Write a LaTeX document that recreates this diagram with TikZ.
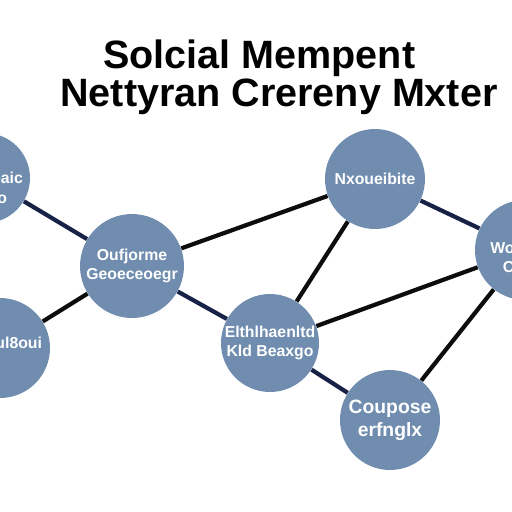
\documentclass[tikz,border=0pt]{standalone}
\usepackage{fontspec}
\setmainfont{Liberation Sans}
\usepackage{xcolor}
\usepackage{tikz}
\usetikzlibrary{backgrounds}

\definecolor{bubble}{RGB}{112,141,176}
\definecolor{navyline}{RGB}{24,34,70}

\begin{document}
\begin{tikzpicture}[
    x=0.02cm, y=-0.02cm,
    hub/.style={circle, fill=bubble, inner sep=0pt, minimum size=2cm,
                text=white, align=center,
                font=\bfseries\fontsize{9}{11}\selectfont},
    hubtext/.style={text=white, align=center, inner sep=0pt,
                    font=\bfseries\fontsize{9}{11}\selectfont},
    tie/.style={line width=2.4pt, black!95},
    navytie/.style={line width=2.4pt, navyline},
    heading/.style={anchor=base west, inner sep=0pt,
                    font=\bfseries\fontsize{22.5}{26}\selectfont},
]
\useasboundingbox (0,0) rectangle (512,512);
\clip (0,0) rectangle (512,512);

% Title, two lines
\node[heading] (ttop) at (103,68) {Solcial Mempent};
\node[heading] (tbot) at (60,106) {Nettyran Crereny Mxter};

% Bubbles
\node[hub, minimum size=1.8cm,
      label={[hubtext, xshift=0.24cm, yshift=-0.2cm]center:Oaeaic\\Eo}]
    (edge1) at (-15,178) {};
\node[hub,
      label={[hubtext, xshift=0.05cm, yshift=0.1cm]center:Sowul8oui}]
    (edge2) at (0,348) {};
\node[hub, minimum size=2.08cm] (hub1) at (132,266) {Oufjorme\\Geoeceoegr};
\node[hub] (top1) at (375,179) {Nxoueibite};
\node[hub,
      label={[hubtext, xshift=-0.1cm, yshift=-0.15cm]center:Wouwis\\Cosi}]
    (right1) at (525,250) {};
\node[hub, minimum size=1.96cm] (mid1) at (270,343) {Elthlhaenltd\\Kld Beaxgo};
\node[hub, font=\bfseries\fontsize{11}{13}\selectfont]
    (low1) at (390,420) {Coupose\\erfnglx};

% Links, behind the bubbles
\begin{scope}[on background layer]
\draw[navytie] (edge1) -- (hub1);
\draw[tie] (hub1) -- (edge2);
\draw[tie] (hub1) -- (top1);
\draw[navytie] (hub1) -- (mid1);
\draw[tie] (top1) -- (mid1);
\draw[navytie] (top1) -- (right1);
\draw[tie] (mid1) -- (right1);
\draw[navytie] (mid1) -- (low1);
\draw[tie] (low1) -- (right1);
\end{scope}

\end{tikzpicture}
\end{document}
